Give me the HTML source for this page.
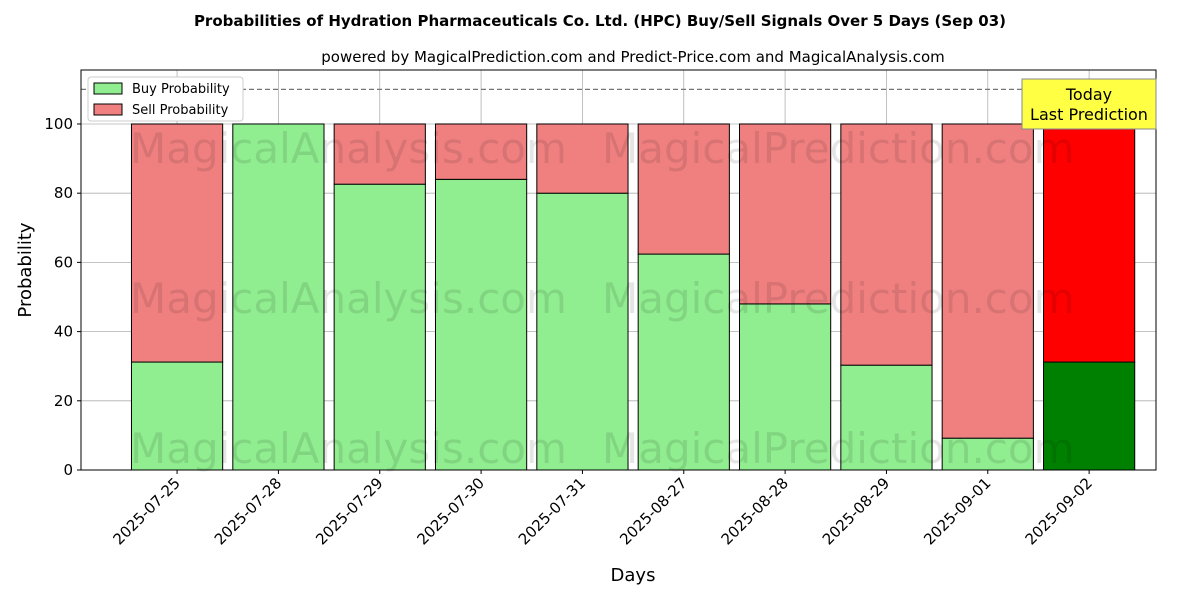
<!DOCTYPE html>
<html><head><meta charset="utf-8">
<style>
body{margin:0;background:#fff;}
svg{display:block;font-family:"DejaVu Sans","Liberation Sans",sans-serif;}
</style></head>
<body>
<svg id="chart" width="1200" height="600" xmlns="http://www.w3.org/2000/svg">
<text x="600" y="26" text-anchor="middle" font-size="15" font-weight="bold">Probabilities of Hydration Pharmaceuticals Co. Ltd. (HPC) Buy/Sell Signals Over 5 Days (Sep 03)</text>
<text x="633" y="62" text-anchor="middle" font-size="15">powered by MagicalPrediction.com and Predict-Price.com and MagicalAnalysis.com</text>
<g id="grid"></g>
<g id="bars"></g>
<g id="wm" fill="#000" fill-opacity="0.1" font-size="42">
<text x="130" y="163">MagicalAnalysis.com</text>
<text x="602" y="163">MagicalPrediction.com</text>
<text x="130" y="313">MagicalAnalysis.com</text>
<text x="602" y="313">MagicalPrediction.com</text>
<text x="130" y="463">MagicalAnalysis.com</text>
<text x="602" y="463">MagicalPrediction.com</text>
</g>
<g id="axes"></g>
<rect x="81" y="70" width="1075" height="400" fill="none" stroke="#000" stroke-width="1"/>
<g>
<rect x="88" y="77" width="155" height="44" fill="#fff" stroke="#ccc" rx="3"/>
<rect x="94" y="83" width="28" height="11" fill="#90ee90" stroke="#000"/>
<text x="132" y="93" font-size="13">Buy Probability</text>
<rect x="94" y="104" width="28" height="11" fill="#f08080" stroke="#000"/>
<text x="132" y="114" font-size="13">Sell Probability</text>
</g>
<g>
<rect x="1022" y="79" width="134" height="50" fill="#ffff44" stroke="#888"/>
<text x="1089" y="100" text-anchor="middle" font-size="16">Today</text>
<text x="1089" y="120" text-anchor="middle" font-size="16">Last Prediction</text>
</g>
<text x="633" y="581" text-anchor="middle" font-size="18">Days</text>
<text transform="translate(31,270) rotate(-90)" text-anchor="middle" font-size="18">Probability</text>
</svg>
<script>
const categories=["2025-07-25","2025-07-28","2025-07-29","2025-07-30","2025-07-31","2025-08-27","2025-08-28","2025-08-29","2025-09-01","2025-09-02"];
const buyValues=[31.2,100,82.6,84,80,62.4,48,30.3,9.2,31.2];
const sellValues=[68.8,0,17.4,16,20,37.6,52,69.7,90.8,68.8];
const yTicks=[0,20,40,60,80,100];
const refLine=110;
const NS="http://www.w3.org/2000/svg";
const X0=81,X1=1156,Y0=70,Y1=470,xmin=-0.948,xmax=9.66,ymin=0,ymax=115.6;
const xs=i=>X0+(i-xmin)/(xmax-xmin)*(X1-X0);
const ys=v=>Y1-(v-ymin)/(ymax-ymin)*(Y1-Y0);
const bw=0.9*(X1-X0)/(xmax-xmin);
function mk(tag,attrs,parent){const e=document.createElementNS(NS,tag);for(const k in attrs)e.setAttribute(k,attrs[k]);parent.appendChild(e);return e;}
const grid=document.getElementById('grid'),bars=document.getElementById('bars'),axes=document.getElementById('axes');
yTicks.forEach(t=>{
 const g=mk('line',{x1:X0,x2:X1,y1:ys(t),y2:ys(t),stroke:'#b0b0b0','stroke-width':0.8},grid);
 
 
 const tk=mk('line',{x1:X0-4,x2:X0,y1:ys(t),y2:ys(t),stroke:'#000'},axes);
 
 
 const tl=mk('text',{x:X0-8,y:ys(t)+5,'text-anchor':'end','font-size':15},axes);
 tl.textContent=t;
 
 
});
categories.forEach((c,i)=>{
 const x=xs(i);
 const g=mk('line',{x1:x,x2:x,y1:Y0,y2:Y1,stroke:'#b0b0b0','stroke-width':0.8},grid);
 
 
 const last=i===categories.length-1;
 const b=mk('rect',{x:x-bw/2,y:ys(buyValues[i]),width:bw,height:ys(0)-ys(buyValues[i]),fill:last?'#008000':'#90ee90',stroke:'#000','stroke-width':1},bars);
 
 
 const s=mk('rect',{x:x-bw/2,y:ys(buyValues[i]+sellValues[i]),width:bw,height:ys(buyValues[i])-ys(buyValues[i]+sellValues[i]),fill:last?'#ff0000':'#f08080',stroke:'#000','stroke-width':1},bars);
 
 
 const tk=mk('line',{x1:x,x2:x,y1:Y1,y2:Y1+4,stroke:'#000'},axes);
 
 
 const tl=mk('text',{x:x+4,y:Y1+14,'text-anchor':'end','font-size':15,transform:`rotate(-45 ${x+4} ${Y1+14})`},axes);
 tl.textContent=c;
 
 
});
const rl=mk('line',{x1:X0,x2:X1,y1:ys(refLine),y2:ys(refLine),stroke:'#777','stroke-dasharray':'5,3','stroke-width':1.2},bars);


</script>
</body></html>
